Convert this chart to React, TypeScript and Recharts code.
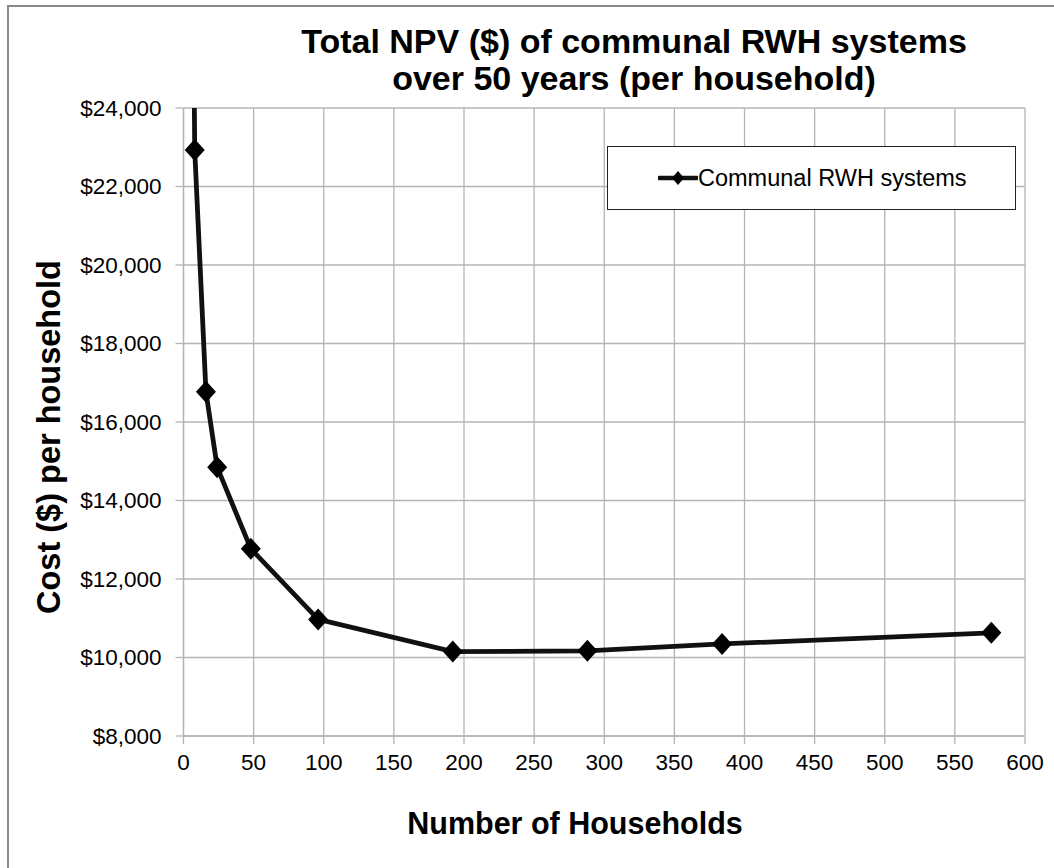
import React from 'react';
import { LineChart, Line, XAxis, YAxis, CartesianGrid } from 'recharts';

// Number of households sharing one communal system
const households = [4, 8, 16, 24, 48, 96, 192, 288, 384, 576];
// Total NPV over 50 years, per household ($)
const costPerHousehold = [40000, 22930, 16770, 14850, 12770, 10970, 10150, 10170, 10345, 10630];

const xTicks = [0, 50, 100, 150, 200, 250, 300, 350, 400, 450, 500, 550, 600];
const yTicks = [8000, 10000, 12000, 14000, 16000, 18000, 20000, 22000, 24000];

const seriesName = 'Communal RWH systems';
const titleLines = ['Total NPV ($) of communal RWH systems', 'over 50 years (per household)'];
const xLabel = 'Number of Households';
const yLabel = 'Cost ($) per household';

const Y_MIN = 8000;
const Y_MAX = 24000;

const data = households.map((n, i) => ({ n, cost: costPerHousehold[i] }));

const FONT = '"Liberation Sans", Arial, sans-serif';
const GRID = '#b4b4b4';
const TICK_FONT = 22.5;

const money = (v: number) => '$' + v.toLocaleString('en-US');

const Diamond = (props: any) => {
  const { cx, cy, value, index } = props;
  if (value > Y_MAX || value < Y_MIN || cx == null || cy == null) {
    return <g key={`d-${index}`} />;
  }
  const w = 10;
  const h = 11;
  return (
    <polygon
      key={`d-${index}`}
      points={`${cx},${cy - h} ${cx + w},${cy} ${cx},${cy + h} ${cx - w},${cy}`}
      fill="#000"
    />
  );
};

// Boxed series key placed in the upper right of the plot
const LegendBox = () => (
  <div
    style={{
      position: 'absolute',
      left: 607,
      top: 146,
      width: 407,
      height: 62,
      border: '1px solid #222',
      background: '#fff',
      display: 'flex',
      alignItems: 'center',
      fontFamily: FONT,
      fontSize: 23.5,
      color: '#000',
      boxSizing: 'content-box',
      whiteSpace: 'nowrap',
    }}
  >
    <svg width={40} height={20} style={{ marginLeft: 50 }}>
      <line x1={1} y1={10} x2={39} y2={10} stroke="#111" strokeWidth={4.5} strokeLinecap="round" />
      <polygon points="20,3 26,10 20,17 14,10" fill="#000" />
    </svg>
    <span>{seriesName}</span>
  </div>
);

export default function App() {
  return (
    <div
      style={{
        position: 'absolute',
        left: 0,
        top: 0,
        width: 1054,
        height: 868,
        overflow: 'hidden',
        background: '#fff',
      }}
    >
      <div
        style={{
          position: 'absolute',
          left: 7,
          top: 5,
          width: 1200,
          height: 1000,
          borderLeft: '2px solid #8a8a8a',
          borderTop: '2px solid #8a8a8a',
        }}
      />
      <div style={{ position: 'absolute', left: 0, top: 0 }}>
        <LineChart
          width={1054}
          height={868}
          data={data}
          margin={{ top: 108, right: 29, bottom: 92, left: 103.5 }}
        >
          <CartesianGrid stroke={GRID} strokeWidth={1.3} />
          <XAxis
            dataKey="n"
            type="number"
            domain={[0, 600]}
            ticks={xTicks}
            interval={0}
            height={40}
            axisLine={{ stroke: GRID, strokeWidth: 1.3 }}
            tickLine={{ stroke: GRID, strokeWidth: 1.3 }}
            tickSize={8}
            tickMargin={10}
            tick={{ fontFamily: FONT, fontSize: TICK_FONT, fill: '#000' }}
          />
          <YAxis
            type="number"
            domain={[Y_MIN, Y_MAX]}
            allowDataOverflow
            ticks={yTicks}
            interval={0}
            width={80}
            axisLine={{ stroke: GRID, strokeWidth: 1.3 }}
            tickLine={{ stroke: GRID, strokeWidth: 1.3 }}
            tickSize={8}
            tickMargin={14}
            tickFormatter={money}
            tick={{ fontFamily: FONT, fontSize: TICK_FONT, fill: '#000' }}
          />
          <Line
            type="linear"
            dataKey="cost"
            name={seriesName}
            stroke="#111"
            strokeWidth={4.8}
            dot={Diamond}
            activeDot={false}
            isAnimationActive={false}
          />
          <text
            x={634}
            y={53}
            textAnchor="middle"
            fontFamily={FONT}
            fontWeight="bold"
            fontSize={34}
            fill="#000"
          >
            {titleLines[0]}
          </text>
          <text
            x={634}
            y={90}
            textAnchor="middle"
            fontFamily={FONT}
            fontWeight="bold"
            fontSize={34}
            fill="#000"
          >
            {titleLines[1]}
          </text>
          <text
            x={575}
            y={834}
            textAnchor="middle"
            fontFamily={FONT}
            fontWeight="bold"
            fontSize={30.5}
            fill="#000"
          >
            {xLabel}
          </text>
          <text
            x={60}
            y={437}
            textAnchor="middle"
            fontFamily={FONT}
            fontWeight="bold"
            fontSize={32.5}
            fill="#000"
            transform="rotate(-90 60 437)"
          >
            {yLabel}
          </text>
        </LineChart>
      </div>
      <LegendBox />
    </div>
  );
}
